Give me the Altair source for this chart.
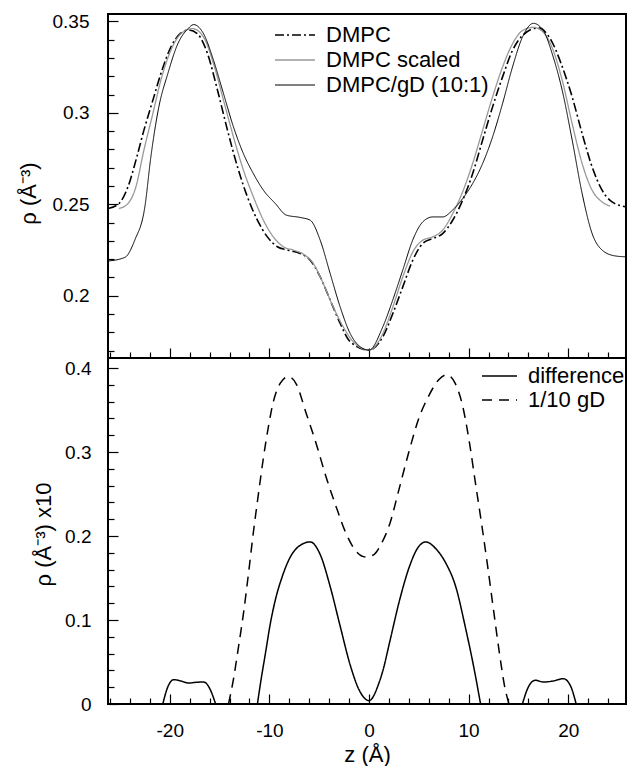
import altair as alt
import pandas as pd

FONT = "Liberation Sans"

# ---------------- top panel data ----------------
top_names = ["DMPC", "DMPC scaled", "DMPC/gD (10:1)"]

dmpc_z = [-26.2, -25.1, -24.2, -23.4, -22.6, -21.7, -20.9, -19.9, -18.9, -18.1, -17.2, -16.2,
          -15.2, -14.2, -13.2, -12.2, -11.2, -10.2, -9.2, -8.2, -6.9, -5.9, -4.9, -3.9, -2.9,
          -1.9, 0.0, 1.4, 2.4, 3.4, 4.4, 5.4, 6.4, 7.4, 8.4, 9.4, 10.4, 11.4, 12.4, 13.4, 14.4,
          15.4, 17.0, 18.3, 19.3, 20.4, 21.4, 22.4, 23.4, 24.4, 25.8]
dmpc_rho = [0.2477, 0.2504, 0.2595, 0.2740, 0.2904, 0.3068, 0.3213, 0.3358, 0.3435, 0.3453,
            0.3431, 0.3322, 0.3122, 0.2904, 0.2704, 0.2540, 0.2413, 0.2322, 0.2268, 0.2250,
            0.2231, 0.2195, 0.2104, 0.1977, 0.1850, 0.1750, 0.1703, 0.1777, 0.1904, 0.2050,
            0.2195, 0.2286, 0.2313, 0.2340, 0.2413, 0.2522, 0.2667, 0.2850, 0.3031, 0.3195,
            0.3340, 0.3422, 0.3464, 0.3395, 0.3267, 0.3086, 0.2886, 0.2704, 0.2577, 0.2513,
            0.2486]

scaled_z = [-25.1, -24.2, -23.4, -22.6, -21.7, -20.9, -19.9, -18.9, -17.7, -16.6, -15.6, -14.6,
            -13.6, -12.6, -11.6, -10.6, -9.6, -8.6, -7.6, -6.6, -5.6, -4.6, -3.6, -2.6, -1.6,
            0.0, 1.4, 2.4, 3.4, 4.4, 5.4, 6.4, 7.4, 8.4, 9.4, 10.4, 11.4, 12.4, 13.4, 14.4, 15.4,
            16.5, 17.5, 18.5, 19.4, 20.4, 21.4, 22.4, 23.4, 24.2]
scaled_rho = [0.2477, 0.2504, 0.2595, 0.2795, 0.2995, 0.3177, 0.3340, 0.3431, 0.3460, 0.3413,
              0.3267, 0.3068, 0.2867, 0.2686, 0.2540, 0.2413, 0.2322, 0.2268, 0.2250, 0.2228,
              0.2177, 0.2068, 0.1940, 0.1832, 0.1750, 0.1703, 0.1795, 0.1940, 0.2104, 0.2240,
              0.2304, 0.2322, 0.2359, 0.2449, 0.2568, 0.2722, 0.2904, 0.3086, 0.3249, 0.3376,
              0.3449, 0.3467, 0.3440, 0.3340, 0.3177, 0.2940, 0.2722, 0.2577, 0.2513, 0.2490]

gd_z = [-26.2, -24.5, -23.5, -22.5, -21.9, -21.1, -20.2, -19.2, -18.2, -17.6, -16.6, -15.6,
        -14.6, -13.6, -12.6, -11.6, -10.6, -9.4, -8.3, -6.9, -5.9, -4.9, -3.9, -2.9, -1.9,
        -0.9, 0.0, 1.4, 2.4, 3.4, 4.4, 5.4, 6.4, 7.4, 8.4, 9.4, 10.4, 11.4, 12.4, 13.4, 14.4,
        15.4, 16.5, 17.5, 18.5, 19.4, 20.4, 21.4, 22.4, 23.4, 24.7, 25.8]
gd_rho = [0.2190, 0.2210, 0.2306, 0.2486, 0.2758, 0.3031, 0.3213, 0.3376, 0.3458, 0.3482,
          0.3431, 0.3286, 0.3104, 0.2922, 0.2776, 0.2667, 0.2577, 0.2504, 0.2441, 0.2428,
          0.2413, 0.2304, 0.2122, 0.1940, 0.1795, 0.1722, 0.1703, 0.1832, 0.1979, 0.2142,
          0.2306, 0.2404, 0.2431, 0.2431, 0.2469, 0.2531, 0.2613, 0.2722, 0.2867, 0.3049,
          0.3249, 0.3413, 0.3489, 0.3449, 0.3304, 0.3122, 0.2850, 0.2558, 0.2340, 0.2250,
          0.2218, 0.2213]

# ---------------- bottom panel data ----------------
bot_names = ["difference", "1/10 gD"]

diff_left_z = [-20.7, -20.2, -19.6, -18.9, -18.1, -17.3, -16.6, -15.9, -15.4]
diff_left_v = [0.0, 0.0203, 0.0290, 0.0274, 0.0250, 0.0259, 0.0262, 0.0163, 0.0]
diff_mid_z = [-11.2, -10.9, -10.4, -9.9, -9.4, -8.7, -7.9, -6.9, -5.9, -4.9, -3.9, -2.9, -1.9,
              -1.0, 0.0, 1.0, 1.4, 2.1, 3.1, 4.1, 4.9, 5.7, 6.7, 7.7, 8.7, 9.7, 10.5, 11.2]
diff_mid_v = [0.0, 0.024, 0.060, 0.096, 0.124, 0.152, 0.175, 0.189, 0.193, 0.178, 0.140, 0.093,
              0.047, 0.017, 0.004, 0.025, 0.040, 0.075, 0.125, 0.165, 0.186, 0.193, 0.185, 0.168,
              0.140, 0.090, 0.045, 0.0]
diff_right_z = [15.4, 16.0, 16.7, 17.5, 18.5, 19.5, 20.2, 20.8]
diff_right_v = [0.0, 0.0203, 0.0283, 0.0262, 0.0274, 0.0302, 0.0223, 0.0]

gd10_z = [-14.1, -13.6, -13.1, -12.6, -12.1, -11.6, -11.1, -10.6, -10.1, -9.6, -8.9, -8.1,
          -7.3, -6.3, -5.3, -4.3, -3.3, -2.3, -1.3, -0.3, 0.5, 1.2, 2.1, 3.0, 4.0, 5.0, 6.0,
          7.0, 7.8, 8.6, 9.4, 10.1, 10.7, 11.3, 11.9, 12.5, 13.1, 13.6, 14.05]
gd10_v = [0.0, 0.030, 0.068, 0.108, 0.155, 0.205, 0.250, 0.293, 0.330, 0.360, 0.382, 0.390,
          0.381, 0.346, 0.310, 0.270, 0.235, 0.203, 0.182, 0.175, 0.178, 0.190, 0.215, 0.255,
          0.300, 0.340, 0.367, 0.386, 0.392, 0.383, 0.355, 0.310, 0.262, 0.215, 0.165, 0.112,
          0.060, 0.022, 0.0]

# ---------------- ticks ----------------
x_ticks = [-26, -24, -22, -20, -18, -16, -14, -12, -10, -8, -6, -4, -2, 0, 2, 4, 6, 8, 10,
           12, 14, 16, 18, 20, 22, 24]
top_y_ticks = [0.17, 0.18, 0.19, 0.20, 0.21, 0.22, 0.23, 0.24, 0.25, 0.26, 0.27, 0.28, 0.29,
               0.30, 0.31, 0.32, 0.33, 0.34, 0.35]
bot_y_ticks = [0.0, 0.02, 0.04, 0.06, 0.08, 0.10, 0.12, 0.14, 0.16, 0.18, 0.20, 0.22, 0.24,
               0.26, 0.28, 0.30, 0.32, 0.34, 0.36, 0.38, 0.40]


def frame(zs, vs, name, seg, col):
    return pd.DataFrame({"z": zs, col: vs, "series": name, "seg": seg})


top_df = pd.concat([
    frame(dmpc_z, dmpc_rho, top_names[0], 0, "rho"),
    frame(scaled_z, scaled_rho, top_names[1], 1, "rho"),
    frame(gd_z, gd_rho, top_names[2], 2, "rho"),
], ignore_index=True)

bot_df = pd.concat([
    frame(diff_left_z, diff_left_v, bot_names[0], 0, "d"),
    frame(diff_mid_z, diff_mid_v, bot_names[0], 1, "d"),
    frame(diff_right_z, diff_right_v, bot_names[0], 2, "d"),
    frame(gd10_z, gd10_v, bot_names[1], 3, "d"),
], ignore_index=True)

W = 518
xscale = alt.Scale(domain=[-26.2, 25.8], nice=False, zero=False)

top = alt.Chart(top_df).mark_line(clip=True, interpolate="monotone").encode(
    x=alt.X("z:Q", scale=xscale,
            axis=alt.Axis(values=x_ticks, labels=False, title=None, domain=False, grid=False,
                          tickSize={"expr": "datum.value % 10 === 0 ? -10 : -6"},
                          tickColor="black", tickWidth=1.2)),
    y=alt.Y("rho:Q", scale=alt.Scale(domain=[0.166, 0.354], nice=False, zero=False),
            axis=alt.Axis(values=top_y_ticks, domain=False, grid=False,
                          labelExpr="abs(datum.value*20 - round(datum.value*20)) < 0.001 ? format(datum.value, '~g') : ''",
                          tickSize={"expr": "abs(datum.value*20 - round(datum.value*20)) < 0.001 ? -10 : -6"},
                          tickColor="black", tickWidth=1.2, labelOverlap=False, labelFlush=False,
                          labelPadding=29, labelFontSize=19,
                          title="ρ (Å⁻³)", titleFontSize=22, titleX=-80, titleY=179,
                          titleAlign="center", titleBaseline="middle")),
    color=alt.Color("series:N", scale=alt.Scale(domain=top_names, range=["black", "#999999", "black"]),
                    legend=alt.Legend(title=None, orient="none", legendX=166, legendY=8.5,
                                      symbolType="stroke", symbolSize=1600, clipHeight=25,
                                      rowPadding=0, labelOffset=10, padding=0, labelLimit=400,
                                      labelFont=FONT, labelFontSize=22, labelColor="black")),
    strokeDash=alt.StrokeDash("series:N", scale=alt.Scale(domain=top_names,
                                                          range=[[9, 3, 2, 3], [1, 0], [1, 0]])),
    strokeWidth=alt.StrokeWidth("series:N", scale=alt.Scale(domain=top_names, range=[1.6, 1.0, 2.0])),
    detail="seg:N",
).properties(width=W, height=344)

bottom = alt.Chart(bot_df).mark_line(clip=True, interpolate="monotone").encode(
    x=alt.X("z:Q", scale=xscale,
            axis=alt.Axis(values=x_ticks, domain=False, grid=False,
                          labelExpr="datum.value % 10 === 0 ? '' + datum.value : ''",
                          tickSize={"expr": "datum.value % 10 === 0 ? -10 : -6"},
                          tickColor="black", tickWidth=1.2, labelOverlap=False, labelFlush=False,
                          labelPadding=27, labelFontSize=19,
                          title="z (Å)", titleFontSize=22, titlePadding=0)),
    y=alt.Y("d:Q", scale=alt.Scale(domain=[0, 0.412], nice=False, zero=False),
            axis=alt.Axis(values=bot_y_ticks, domain=False, grid=False,
                          labelExpr="abs(datum.value*10 - round(datum.value*10)) < 0.001 ? format(datum.value, '~g') : ''",
                          tickSize={"expr": "abs(datum.value*10 - round(datum.value*10)) < 0.001 ? -10 : -6"},
                          tickColor="black", tickWidth=1.2, labelOverlap=False, labelFlush=False,
                          labelPadding=27, labelFontSize=19,
                          title="ρ (Å⁻³) x10", titleFontSize=22, titleX=-65, titleY=176,
                          titleAlign="center", titleBaseline="middle")),
    color=alt.Color("series:N", scale=alt.Scale(domain=bot_names, range=["black", "black"]),
                    legend=alt.Legend(title=None, orient="none", legendX=373, legendY=6,
                                      symbolType="stroke", symbolSize=1225, clipHeight=24,
                                      rowPadding=0, labelOffset=10, padding=0, labelLimit=400,
                                      labelFont=FONT, labelFontSize=22, labelColor="black")),
    strokeDash=alt.StrokeDash("series:N", scale=alt.Scale(domain=bot_names, range=[[1, 0], [10, 7]])),
    strokeWidth=alt.StrokeWidth("series:N", scale=alt.Scale(domain=bot_names, range=[1.5, 1.5])),
    detail="seg:N",
).properties(width=W, height=346)

chart = alt.vconcat(top, bottom, spacing=0, bounds="flush").resolve_scale(
    color="independent", strokeDash="independent", strokeWidth="independent", y="independent"
).resolve_legend(color="independent", strokeDash="independent", strokeWidth="independent").properties(
    padding={"left": 8, "top": 3, "right": 0, "bottom": 0}, background="white"
).configure_view(stroke="black", strokeWidth=2).configure_axis(
    labelFont=FONT, titleFont=FONT, labelColor="black", titleColor="black", titleFontWeight="normal"
)

chart.save("out.html", embed_options={"renderer": "svg", "actions": False})
